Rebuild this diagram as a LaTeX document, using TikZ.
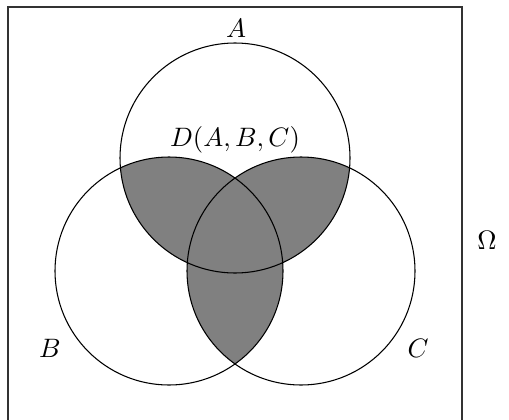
\documentclass[tikz,border=0pt]{standalone}
\usepackage{amsmath,amssymb}
\usetikzlibrary{positioning}
\tikzset{
  setcircle/.style={draw=black, line width=0.4pt},
  setlabel/.style={inner sep=1pt},
}
\def\circA{(235,261) circle [radius=115]}
\def\circB{(169,148) circle [radius=114]}
\def\circC{(301,148) circle [radius=114]}

\begin{document}
\begin{tikzpicture}[x=0.375pt, y=0.375pt]
  \useasboundingbox (0,0) rectangle (509,419);
  % universe
  \draw[line width=0.5pt, draw=black!80] (8,412) rectangle (462,-20);

  % pairwise intersections
  \begin{scope}
    \clip \circA;
    \fill[gray] \circB;
    \fill[gray] \circC;
  \end{scope}
  \begin{scope}
    \clip \circB;
    \fill[gray] \circC;
  \end{scope}

  \draw[setcircle] \circA;
  \draw[setcircle] \circB;
  \draw[setcircle] \circC;

  \node[setlabel] (labA) at (236,391) {$A$};
  \node[setlabel] (labD) at (235,279) {$D(A,B,C)$};
  \node[setlabel] (labB) at (50,71) {$B$};
  \node[setlabel] (labC) at (418,71) {$C$};
  \node[setlabel] (omega) at (487,179) {$\Omega$};
\end{tikzpicture}
\end{document}
